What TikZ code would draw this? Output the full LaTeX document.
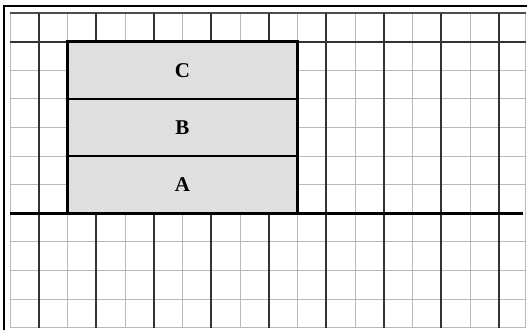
\documentclass[tikz,border=0pt]{standalone}
\usepackage{fontspec}
\setmainfont{Liberation Serif}
\usetikzlibrary{positioning}

\tikzset{
  thinline/.style={draw=gray!55, line width=1pt},
  thickline/.style={draw=black!80, line width=2.2pt},
  ground/.style={draw=black, line width=3.4pt},
  block/.style={draw=black, line width=2.4pt, fill=gray!25, outer sep=0pt,
    minimum width=230pt, minimum height=57.2pt,
    font=\fontsize{21}{24}\selectfont\bfseries}
}

\begin{document}
\begin{tikzpicture}[x=1pt,y=-1pt]
\useasboundingbox (0,0) rectangle (527,330);
% frame
\draw[line width=2.2pt] (3,6) -- (527,6);
\draw[line width=2.2pt] (4,5) -- (4,330);
% grid, thin lines first
\foreach \k in {0,2,...,16}
  \draw[thinline] ({10+28.75*\k},13) -- ({10+28.75*\k},327.6);
\draw[thinline] (525.5,13) -- (525.5,327.6);
\foreach \k in {0,2,3,4,5,6,8,9,10,11}
  \draw[thinline] (10,{13+28.6*\k}) -- (525.5,{13+28.6*\k});
\draw[draw=black!70, line width=1.2pt] (10,13) -- (525.5,13);
\draw[thinline] (10,327.6) -- (525.5,327.6);
% thick lines
\foreach \k in {1,3,...,17}
  \draw[thickline] ({10+28.75*\k},13) -- ({10+28.75*\k},327.6);
\draw[thickline] (10,41.6) -- (525.5,41.6);
% blocks
\node[block] (blockA) at (182.5,184.6) {A};
\node[block, above=0pt of blockA] (blockB) {B};
\node[block, above=0pt of blockB] (blockC) {C};
% ground
\draw[ground] (10,213.2) -- (523,213.2);
\end{tikzpicture}
\end{document}
